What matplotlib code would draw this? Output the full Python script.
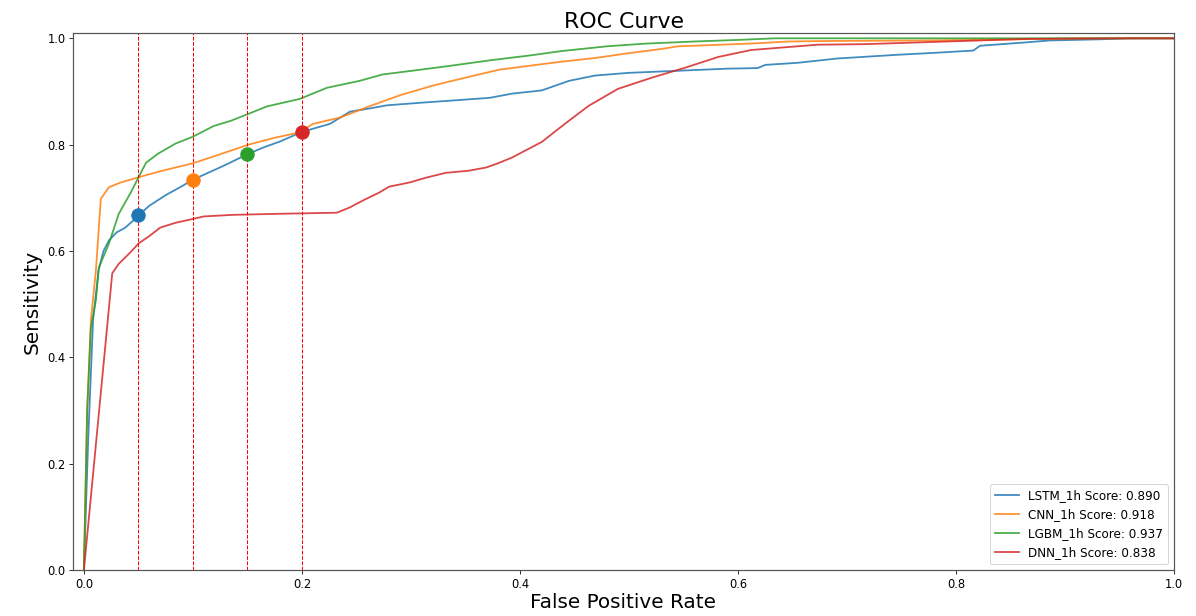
import matplotlib
matplotlib.use("Agg")
import matplotlib.pyplot as plt

# ROC points (false positive rate, sensitivity) per model
lstm_fpr = [0.0, 0.004, 0.0084, 0.0134, 0.018, 0.023, 0.030, 0.038, 0.044, 0.05, 0.06, 0.075,
            0.09, 0.1, 0.115, 0.13, 0.15, 0.165, 0.18, 0.2, 0.2256, 0.244, 0.262, 0.278, 0.31,
            0.338, 0.372, 0.393, 0.42, 0.445, 0.469, 0.4995, 0.545, 0.591, 0.618, 0.625, 0.655,
            0.691, 0.746, 0.783, 0.816, 0.822, 0.862, 0.886, 0.93, 0.96, 1.0]
lstm_tpr = [0.0, 0.25, 0.47, 0.563, 0.60, 0.62, 0.635, 0.644, 0.655, 0.667, 0.685, 0.705,
            0.722, 0.734, 0.748, 0.762, 0.782, 0.795, 0.806, 0.824, 0.839, 0.862, 0.868, 0.874, 0.879,
            0.883, 0.888, 0.896, 0.902, 0.92, 0.93, 0.935, 0.939, 0.943, 0.944, 0.950, 0.954,
            0.962, 0.969, 0.973, 0.977, 0.986, 0.992, 0.996, 0.998, 1.0, 1.0]

cnn_fpr = [0.0, 0.003, 0.0064, 0.011, 0.0155, 0.023, 0.034, 0.049, 0.07, 0.1, 0.125, 0.151,
           0.175, 0.198, 0.21, 0.235, 0.259, 0.29, 0.32, 0.35, 0.381, 0.411, 0.438, 0.469,
           0.4995, 0.53, 0.545, 0.585, 0.621, 0.646, 0.682, 0.776, 0.85, 0.92, 1.0]
cnn_tpr = [0.0, 0.3, 0.47, 0.563, 0.698, 0.72, 0.729, 0.738, 0.75, 0.765, 0.782, 0.800,
           0.813, 0.823, 0.839, 0.851, 0.87, 0.893, 0.911, 0.926, 0.941, 0.949, 0.956, 0.963,
           0.972, 0.98, 0.985, 0.988, 0.991, 0.994, 0.995, 0.996, 0.998, 1.0, 1.0]

lgbm_fpr = [0.0, 0.003, 0.0064, 0.011, 0.0137, 0.023, 0.032, 0.043, 0.05, 0.057, 0.068, 0.084,
            0.1, 0.119, 0.135, 0.151, 0.168, 0.198, 0.223, 0.253, 0.274, 0.305, 0.335, 0.374,
            0.41, 0.438, 0.48, 0.515, 0.56, 0.60, 0.634, 0.7, 0.8, 0.9, 1.0]
lgbm_tpr = [0.0, 0.3, 0.456, 0.507, 0.569, 0.614, 0.67, 0.71, 0.738, 0.766, 0.783, 0.802,
            0.815, 0.835, 0.845, 0.858, 0.872, 0.886, 0.907, 0.92, 0.932, 0.940, 0.948, 0.959,
            0.968, 0.976, 0.985, 0.990, 0.994, 0.997, 1.0, 1.0, 1.0, 1.0, 1.0]

dnn_fpr = [0.0, 0.026, 0.032, 0.04, 0.047, 0.05, 0.06, 0.07, 0.084, 0.095, 0.11, 0.137,
           0.18, 0.232, 0.244, 0.256, 0.271, 0.28, 0.299, 0.314, 0.332, 0.353, 0.369, 0.38,
           0.393, 0.405, 0.42, 0.433, 0.445, 0.463, 0.49, 0.521, 0.552, 0.582, 0.612, 0.673,
           0.716, 0.776, 0.868, 0.953, 1.0]
dnn_tpr = [0.0, 0.558, 0.576, 0.592, 0.607, 0.614, 0.628, 0.644, 0.653, 0.658, 0.665, 0.668,
           0.670, 0.672, 0.682, 0.695, 0.71, 0.721, 0.729, 0.738, 0.747, 0.751, 0.757, 0.765,
           0.776, 0.789, 0.805, 0.826, 0.845, 0.873, 0.905, 0.926, 0.945, 0.965, 0.978, 0.988,
           0.989, 0.993, 0.999, 1.0, 1.0]

labels = ["LSTM_1h Score: 0.890", "CNN_1h Score: 0.918",
          "LGBM_1h Score: 0.937", "DNN_1h Score: 0.838"]
colors = ["#1f77b4", "#ff7f0e", "#2ca02c", "#d62728"]

# operating points marked on the chart
cut_fpr = [0.05, 0.1, 0.15, 0.2]
cut_tpr = [0.667, 0.734, 0.782, 0.824]

W, H, DPI = 1196, 616, 72
fig = plt.figure(figsize=(W / DPI, H / DPI), dpi=DPI)
ax = fig.add_axes([73 / W, 1 - 570 / H, (1174 - 73) / W, (570 - 33) / H])

curves = [(lstm_fpr, lstm_tpr), (cnn_fpr, cnn_tpr), (lgbm_fpr, lgbm_tpr), (dnn_fpr, dnn_tpr)]
for (fx, ty), lab, c in zip(curves, labels, colors):
    ax.plot(fx, ty, color=c, lw=1.8, alpha=0.85, label=lab)

for xv in cut_fpr:
    ax.axvline(xv, color="red", ls="--", lw=1)

for xv, yv, c in zip(cut_fpr, cut_tpr, colors):
    ax.scatter(xv, yv, s=180, color=c, zorder=5)

ax.set_xlim(-0.01, 1.0)
ax.set_ylim(0, 1.01)
ax.set_xticks([0.0, 0.2, 0.4, 0.6, 0.8, 1.0])
ax.set_yticks([0.0, 0.2, 0.4, 0.6, 0.8, 1.0])
ax.tick_params(labelsize=11.5, length=4)
for sp in ax.spines.values():
    sp.set_color("#555555")
    sp.set_linewidth(1.2)
ax.set_title("ROC Curve", fontsize=22, pad=5)
ax.set_xlabel("False Positive Rate", fontsize=20, labelpad=3)
ax.set_ylabel("Sensitivity", fontsize=20, labelpad=6)
ax.legend(loc="lower right", fontsize=12)

fig.savefig("out.png", dpi=DPI)
